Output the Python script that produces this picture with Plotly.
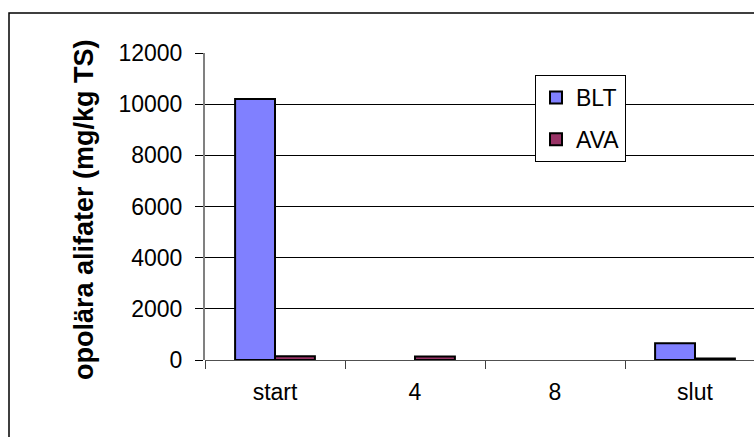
import plotly.graph_objects as go

categories = ["start", "4", "8", "slut"]
blt_values = [10200, 0, 0, 650]
ava_values = [150, 140, 0, 60]
y_ticks = [0, 2000, 4000, 6000, 8000, 10000, 12000]
y_tick_labels = ["0", "2000", "4000", "6000", "8000", "10000", "12000"]

W, H = 754, 437
L, R, T, B = 205, 0, 53, 77
plot_w = W - L - R
plot_h = H - T - B


def drawn(values):
    # empty bars are left out so no outline is drawn on the baseline
    return [v if v else None for v in values]


fig = go.Figure()
fig.add_trace(go.Bar(
    name="BLT", x=categories, y=drawn(blt_values),
    marker=dict(color="#8080FF", line=dict(color="black", width=2)),
    legendgroup="blt",
))
fig.add_trace(go.Bar(
    name="AVA", x=categories, y=drawn(ava_values),
    marker=dict(color="#993366", line=dict(color="black", width=2)),
    legendgroup="ava",
))

font = "Liberation Sans, Arial, sans-serif"

fig.update_layout(
    width=W, height=H,
    margin=dict(l=L, r=R, t=T, b=B, pad=0),
    paper_bgcolor="white", plot_bgcolor="white",
    barmode="group", bargap=0.43, bargroupgap=0,
    font=dict(family=font, size=23, color="black"),
    showlegend=True,
    legend=dict(
        x=(535 - L) / plot_w, y=(H - B - 75) / plot_h,
        xanchor="left", yanchor="top",
        bgcolor="white", bordercolor="black", borderwidth=1,
        font=dict(family=font, size=23, color="black"),
        tracegroupgap=9, traceorder="grouped",
        itemwidth=30,
    ),
    xaxis=dict(
        type="category", range=[-0.5, -0.5 + plot_w / 140],
        showline=False, showgrid=False, zeroline=False,
        ticks="outside", tickson="boundaries", ticklen=8,
        tickcolor="#404040", tickwidth=1,
        ticklabelstandoff=16,
        tickfont=dict(family=font, size=23),
    ),
    yaxis=dict(
        range=[0, 12000], tickvals=y_ticks, ticktext=y_tick_labels,
        showgrid=True, gridcolor="black", gridwidth=1,
        zeroline=True, zerolinecolor="#505050", zerolinewidth=1,
        showline=True, linecolor="#808080", linewidth=2,
        ticks="outside", ticklen=8, tickcolor="black", tickwidth=1,
        ticklabelstandoff=8,
        tickfont=dict(family=font, size=23),
    ),
)

# rotated axis title
fig.add_annotation(
    text="<b>opolära alifater (mg/kg TS)</b>",
    xref="paper", yref="paper",
    x=(84 - L) / plot_w, y=(H - B - 210) / plot_h,
    xanchor="center", yanchor="middle",
    textangle=-90, showarrow=False,
    font=dict(family=font, size=27, color="black"),
)

# outer chart frame
fig.add_shape(
    type="rect", xref="paper", yref="paper",
    x0=(9 - L) / plot_w, x1=1.2,
    y0=-0.5, y1=(H - B - 13) / plot_h,
    line=dict(color="black", width=1.5), fillcolor="rgba(0,0,0,0)",
    layer="below",
)

fig.write_html("out.html")
